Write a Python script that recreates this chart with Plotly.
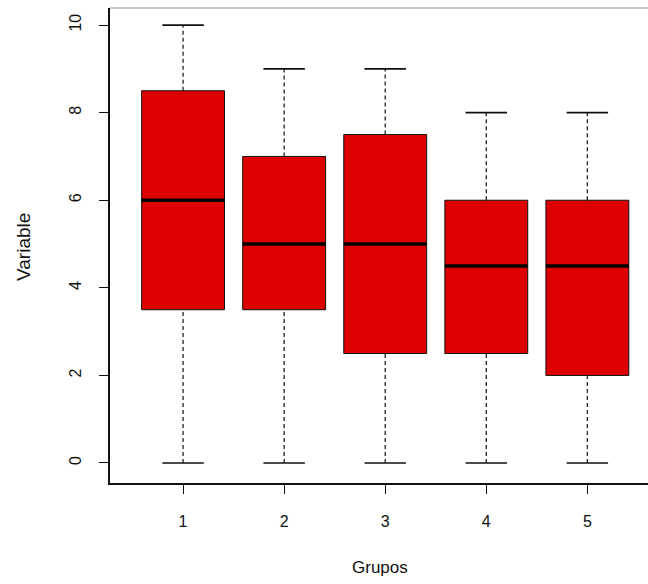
import plotly.graph_objects as go

groups = [1, 2, 3, 4, 5]
mins = [0, 0, 0, 0, 0]
q1 = [3.5, 3.5, 2.5, 2.5, 2.0]
medians = [6.0, 5.0, 5.0, 4.5, 4.5]
q3 = [8.5, 7.0, 7.5, 6.0, 6.0]
maxs = [10, 9, 9, 8, 8]
y_ticks = [0, 2, 4, 6, 8, 10]

BOXW = 0.82
CAPW = 0.41
RED = "#DC0000"

fig = go.Figure()

# boxes
fig.add_trace(go.Bar(
    x=groups, y=[b - a for a, b in zip(q1, q3)], base=q1, width=BOXW,
    marker=dict(color=RED, line=dict(color="#111111", width=1)),
    hoverinfo="skip", showlegend=False))

# whiskers (dashed)
wx, wy = [], []
for g, lo, a, b, hi in zip(groups, mins, q1, q3, maxs):
    wx += [g, g, None, g, g, None]
    wy += [lo, a, None, b, hi, None]
fig.add_trace(go.Scatter(x=wx, y=wy, mode="lines",
                         line=dict(color="#222222", width=1.3, dash="4px,3px"),
                         hoverinfo="skip", showlegend=False))

# caps
cx, cy = [], []
for g, lo, hi in zip(groups, mins, maxs):
    cx += [g - CAPW / 2, g + CAPW / 2, None, g - CAPW / 2, g + CAPW / 2, None]
    cy += [lo, lo, None, hi, hi, None]
fig.add_trace(go.Scatter(x=cx, y=cy, mode="lines",
                         line=dict(color="#111111", width=1.6),
                         hoverinfo="skip", showlegend=False))

# medians
mx, my = [], []
for g, m in zip(groups, medians):
    mx += [g - BOXW / 2, g + BOXW / 2, None]
    my += [m, m, None]
fig.add_trace(go.Scatter(x=mx, y=my, mode="lines",
                         line=dict(color="#000000", width=3.4),
                         hoverinfo="skip", showlegend=False))

font = "Liberation Sans, Arial, sans-serif"

fig.update_layout(
    width=648, height=584,
    margin=dict(l=110, r=0, t=8, b=101),
    paper_bgcolor="white", plot_bgcolor="white",
    font=dict(family=font, size=16, color="#111111"),
    xaxis=dict(range=[0.277, 5.6], tickvals=groups, ticktext=[str(g) for g in groups],
               showgrid=False, zeroline=False, showline=True, linecolor="#111111",
               linewidth=1.6, ticks="outside", ticklen=9, tickcolor="#111111",
               tickwidth=1.3, ticklabelstandoff=14, tickfont=dict(size=16)),
    yaxis=dict(range=[-0.457, 10.39], tickvals=y_ticks, ticktext=[str(t) for t in y_ticks],
               showgrid=False, zeroline=False, showline=True, linecolor="#111111",
               linewidth=1.6, ticks="outside", ticklen=9, tickcolor="#111111",
               tickwidth=1.3, tickangle=-90, ticklabelstandoff=12, tickfont=dict(size=16)),
    shapes=[dict(type="line", xref="paper", yref="paper", x0=0, x1=1, y0=1, y1=1,
                 line=dict(color="#c8c8c8", width=2))],
    annotations=[
        dict(text="Grupos", xref="paper", yref="paper", x=(380 - 110) / 538, y=-(567 - 483) / 475,
             showarrow=False, xanchor="center", yanchor="middle", font=dict(size=17)),
        dict(text="Variable", xref="paper", yref="paper", x=-(110 - 24) / 538, y=(483 - 247) / 475,
             showarrow=False, xanchor="center", yanchor="middle", textangle=-90,
             font=dict(size=19)),
    ],
)

fig.write_html("out.html", config={"displayModeBar": False},
               post_script="document.body.style.margin='0';document.body.style.overflow='hidden';")
